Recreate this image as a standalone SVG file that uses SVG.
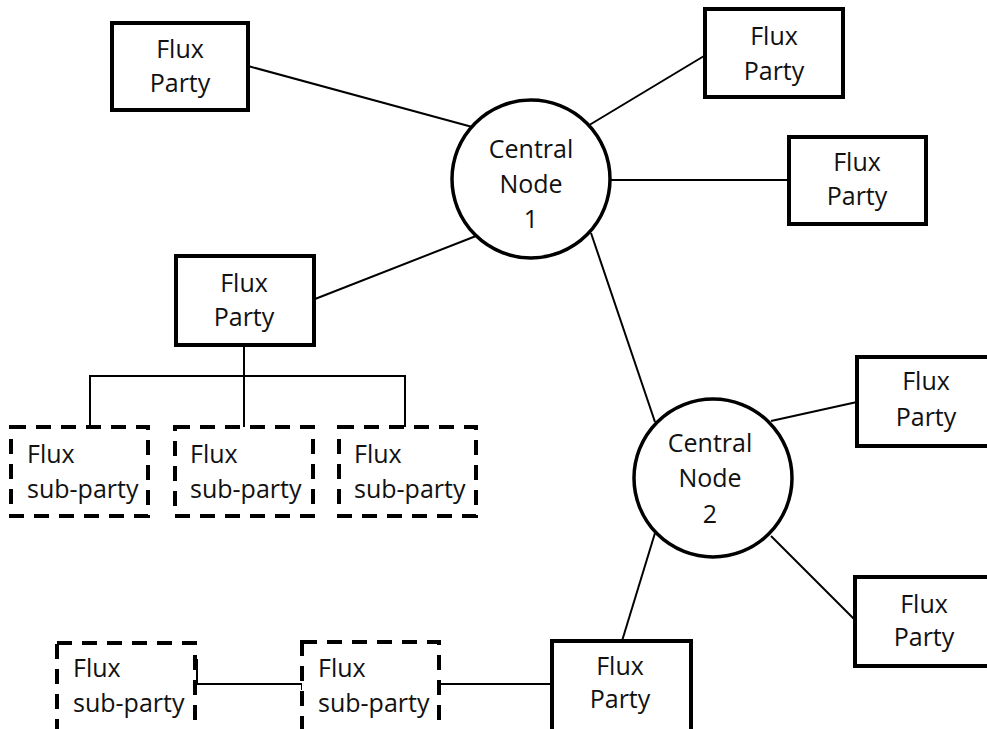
<svg xmlns="http://www.w3.org/2000/svg" width="987" height="729" viewBox="0 0 987 729">
<style>
.box{fill:#fff;stroke:#000;stroke-width:4}
.sub{fill:#fff;stroke:#000;stroke-width:4;stroke-dasharray:15 10}
.node{fill:#fff;stroke:#000;stroke-width:3.5}
.t{font-family:"Open Sans","Liberation Sans",sans-serif;font-size:25px;fill:#111}
.c{text-anchor:middle}
.conn line,.conn polyline{stroke:#000;stroke-width:2;fill:none}
</style>
<rect width="987" height="729" fill="#fff"/>
<g class="conn" id="connectors">
<line x1="248" y1="66" x2="476" y2="128"/>
<line x1="586" y1="127" x2="704" y2="56"/>
<line x1="609" y1="180" x2="789" y2="180"/>
<line x1="476" y1="236" x2="315" y2="299"/>
<line x1="591" y1="233" x2="655" y2="422"/>
<line x1="771" y1="421" x2="857" y2="402"/>
<line x1="771" y1="536" x2="855" y2="620"/>
<line x1="655" y1="533" x2="622" y2="641"/>
<polyline points="244,345 244,427"/>
<polyline points="90,427 90,376 405,376 405,427"/>
<polyline points="195,660 197,660 197,684 302,684 302,690"/>
<polyline points="439,684 552,684"/>
</g>
<g id="party1"><rect class="box" x="112" y="23" width="136" height="87"/><text class="t c" x="180" y="58">Flux</text><text class="t c" x="180" y="92">Party</text></g>
<g id="party2"><rect class="box" x="705" y="9" width="138" height="88"/><text class="t c" x="774" y="45">Flux</text><text class="t c" x="774" y="80">Party</text></g>
<g id="party3"><rect class="box" x="789" y="137" width="137" height="87"/><text class="t c" x="857" y="171">Flux</text><text class="t c" x="857" y="205">Party</text></g>
<g id="party4"><rect class="box" x="176" y="256" width="138" height="89"/><text class="t c" x="244" y="292">Flux</text><text class="t c" x="244" y="326">Party</text></g>
<g id="party5"><rect class="box" x="857" y="357" width="138" height="89"/><text class="t c" x="926" y="390">Flux</text><text class="t c" x="926" y="426">Party</text></g>
<g id="party6"><rect class="box" x="855" y="577" width="138" height="89"/><text class="t c" x="924" y="613">Flux</text><text class="t c" x="924" y="646">Party</text></g>
<g id="party7"><rect class="box" x="552" y="641" width="139" height="95"/><text class="t c" x="620" y="675">Flux</text><text class="t c" x="620" y="708">Party</text></g>
<g id="central1"><circle class="node" cx="531" cy="179" r="79"/><text class="t c" x="531" y="158">Central</text><text class="t c" x="531" y="193">Node</text><text class="t c" x="531" y="228">1</text></g>
<g id="central2"><circle class="node" cx="713" cy="478" r="79"/><text class="t c" x="710" y="452">Central</text><text class="t c" x="710" y="487">Node</text><text class="t c" x="710" y="523">2</text></g>
<g id="sub1"><rect class="sub" x="11" y="427" width="137" height="89"/><text class="t" x="27" y="463">Flux</text><text class="t" x="27" y="498">sub-party</text></g>
<g id="sub2"><rect class="sub" x="175" y="427" width="138" height="89"/><text class="t" x="190" y="463">Flux</text><text class="t" x="190" y="498">sub-party</text></g>
<g id="sub3"><rect class="sub" x="339" y="427" width="137" height="89"/><text class="t" x="354" y="463">Flux</text><text class="t" x="354" y="498">sub-party</text></g>
<g id="sub4"><rect class="sub" x="57" y="643" width="138" height="95"/><text class="t" x="73" y="677">Flux</text><text class="t" x="73" y="712">sub-party</text></g>
<g id="sub5"><rect class="sub" x="302" y="642" width="137" height="95"/><text class="t" x="318" y="677">Flux</text><text class="t" x="318" y="712">sub-party</text></g>
</svg>
